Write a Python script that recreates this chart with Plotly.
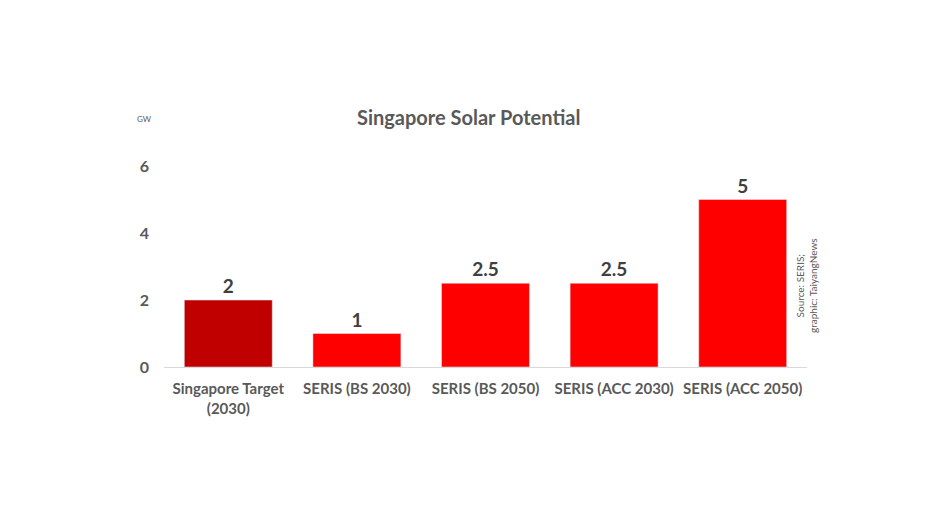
import plotly.graph_objects as go

categories = ['Singapore Target<br>(2030)', 'SERIS (BS 2030)', 'SERIS (BS 2050)',
              'SERIS (ACC 2030)', 'SERIS (ACC 2050)']
values = [2, 1, 2.5, 2.5, 5]
labels = ['2', '1', '2.5', '2.5', '5']
colors = ['#C00000', '#FF0000', '#FF0000', '#FF0000', '#FF0000']
y_ticks = [0, 2, 4, 6]

font = 'Lato, Open Sans, sans-serif'
grey = '#595959'

# page body adds an 8px offset, so target pixels are shifted by it
off = 8
left, right, top, bottom = 164 - off, 137 + off, 166 - off, 164 + off
plot_w = 944 - left - right
plot_h = 531 - top - bottom


def px_x(x):
    return (x - off - left) / plot_w


def px_y(y):
    return (531 - bottom - (y - off)) / plot_h


fig = go.Figure()
fig.add_trace(go.Bar(x=categories, y=values, marker_color=colors, text=labels,
                     texttemplate='<b>%{text}</b>',
                     textposition='outside', cliponaxis=False,
                     textfont=dict(family=font, size=19, color='#404040'),
                     hoverinfo='skip'))

fig.update_layout(
    width=944, height=531, paper_bgcolor='white', plot_bgcolor='white',
    margin=dict(l=left, r=right, t=top, b=bottom, autoexpand=False),
    bargap=0.316, showlegend=False,
    title=dict(text='<b>Singapore Solar Potential</b>', x=(357 - off) / 944, xanchor='left',
               y=1 - (118 - off) / 531, yanchor='middle', yref='container',
               font=dict(family=font, size=20, color=grey)),
    xaxis=dict(showline=True, linecolor='#D9D9D9', linewidth=1, ticks='',
               automargin=False, tickmode='array', tickvals=categories, tickangle=0,
               ticktext=['<b>%s</b>' % c for c in categories], ticklabelstandoff=8,
               tickfont=dict(family=font, size=15, color=grey), showgrid=False),
    yaxis=dict(range=[0, 6], tickvals=y_ticks, ticktext=['<b>%d</b>' % t for t in y_ticks],
               showgrid=False, zeroline=False,
               showline=False, ticks='', ticklabelstandoff=14, automargin=False,
               tickfont=dict(family=font, size=16, color=grey)),
)

fig.add_annotation(text='GW', xref='paper', yref='paper',
                   x=px_x(144), y=px_y(119),
                   xanchor='center', yanchor='middle', showarrow=False,
                   font=dict(family=font, size=8, color=grey))
fig.add_annotation(text='Source: SERIS;<br>graphic: TaiyangNews', textangle=-90,
                   xref='paper', yref='paper',
                   x=px_x(806), y=px_y(286),
                   xanchor='center', yanchor='middle', showarrow=False,
                   font=dict(family=font, size=10, color=grey), align='center')

fig.write_html("out.html")
